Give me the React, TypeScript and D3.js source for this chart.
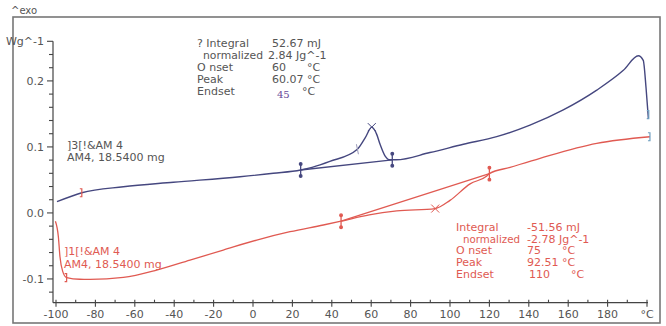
import * as d3 from 'd3';

// heat flow curves (°C, W/g)
const blueTemps = [-99.5, -86.9, -65.8, -40.4, -6.6, 10.3, 24.2, 30, 39, 53, 57, 60.3, 62.8, 64.5, 67, 69.5, 72.6, 89.8, 106.8, 123.7, 140.6, 157.5, 174.5, 188, 195.6, 198.1, 199.5, 200.7];
const blueValues = [0.017, 0.0306, 0.0397, 0.0464, 0.0548, 0.06, 0.065, 0.069, 0.078, 0.0965, 0.114, 0.13, 0.119, 0.104, 0.0865, 0.0805, 0.0805, 0.0915, 0.104, 0.1155, 0.133, 0.156, 0.186, 0.216, 0.238, 0.231, 0.19, 0.1433];

const redTemps = [-100.3, -98.8, -98, -96.6, -94.6, -88, -82.7, -65.8, -48.9, -32, -15.1, 1.9, 18.8, 35.7, 44.7, 59, 73, 92.5, 100, 110.2, 118.7, 120, 130.5, 145.7, 174.5, 201.5];
const redValues = [-0.0125, -0.036, -0.066, -0.0885, -0.098, -0.1005, -0.1006, -0.0976, -0.0865, -0.0714, -0.0562, -0.0411, -0.0285, -0.0183, -0.0125, -0.003, 0.003, 0.0066, 0.019, 0.044, 0.056, 0.0595, 0.069, 0.0827, 0.1054, 0.1154];

// integration limits, onset, peak
const blueLimitTemps = [24.2, 70.7];
const blueLimitValues = [0.065, 0.0805];
const blueOnset = [53, 0.0965];
const bluePeak = [60.3, 0.13];
const redLimitTemps = [44.7, 120];
const redLimitValues = [-0.0125, 0.0595];
const redPeak = [92.5, 0.0066];
const startMarks = [[-86.9, 0.0306], [-94.6, -0.098]];
const endMarks = [[200.9, 0.149], [201.5, 0.1154]];

const xTicks = d3.range(-100, 201, 10);
const xLabels = ['-100', '-80', '-60', '-40', '-20', '0', '20', '40', '60', '80', '100', '120', '140', '160', '180', '°C'];
const yTicks = d3.range(-0.12, 0.27, 0.02).map(v => +v.toFixed(2));
const yLabels: Record<string, string> = { '-0.1': '-0.1', '0': '0.0', '0.1': '0.1', '0.2': '0.2', '0.26': 'Wg^-1' };

const blueText = [['? Integral', '52.67 mJ'], ['normalized', '2.84 Jg^-1'], ['O nset', '60      °C'], ['Peak', '60.07 °C'], ['Endset', '']];
const redText = [['Integral', '-51.56 mJ'], ['normalized', '-2.78 Jg^-1'], ['O nset', '75      °C'], ['Peak', '92.51 °C'], ['Endset', '110      °C']];

const BLUE = '#45477f';
const RED = '#e05a52';
const TEXT = '#555';

export default function App() {
  const width = 666, height = 326;
  const x = d3.scaleLinear().domain([-100, 200]).range([56, 647]);
  const y = d3.scaleLinear().domain([-0.136, 0.26]).range([302.7, 41.3]);

  const line = d3.line<[number, number]>().x(d => x(d[0])).y(d => y(d[1])).curve(d3.curveMonotoneX);
  const blue = line(blueTemps.map((t, i) => [t, blueValues[i]]));
  const red = line(redTemps.map((t, i) => [t, redValues[i]]));
  const straight = d3.line<[number, number]>().x(d => x(d[0])).y(d => y(d[1]));

  const limit = (t: number, v: number, color: string, key: string) => (
    <g key={key} stroke={color} strokeWidth={1.3} fill={color}>
      <line x1={x(t)} x2={x(t)} y1={y(v) - 6} y2={y(v) + 6} />
      <circle cx={x(t)} cy={y(v) - 6} r={1.3} />
      <circle cx={x(t)} cy={y(v) + 6} r={1.3} />
    </g>
  );
  const bracket = (t: number, v: number, color: string, key: string) => (
    <path key={key} d={`M${x(t) - 2},${y(v) - 4} h2 v8 h-2`} fill="none" stroke={color} strokeWidth={1.2} />
  );
  const cross = (t: number, v: number, color: string) => (
    <path d={`M${x(t) - 4},${y(v) - 4} L${x(t) + 4},${y(v) + 4} M${x(t) + 4},${y(v) - 4} L${x(t) - 4},${y(v) + 4}`} stroke={color} strokeWidth={1} />
  );

  return (
    <svg width={width} height={height} style={{ position: 'absolute', left: 0, top: 0, background: '#fff' }} fontFamily="DejaVu Sans, Verdana, sans-serif">
      <rect x={0} y={0} width={width} height={height} fill="#fff" />
      <rect x={13} y={17} width={647} height={306} fill="none" stroke="#777" strokeWidth={1.6} />
      <text x={11} y={14} fontSize={10} fill={TEXT}>^exo</text>

      {/* y axis */}
      <line x1={53} x2={53} y1={y(0.26)} y2={y(-0.136)} stroke="#444" strokeWidth={1.2} />
      {yTicks.map(v => {
        const lab = yLabels[String(v)];
        return (
          <g key={v}>
            <line x1={53 - (lab ? 6 : 4)} x2={53} y1={y(v)} y2={y(v)} stroke="#444" strokeWidth={1.1} />
            {lab && <text x={44} y={y(v)} dy="0.35em" textAnchor="end" fontSize={11} fill={TEXT}>{lab}</text>}
          </g>
        );
      })}

      {/* x axis */}
      <line x1={53} x2={648} y1={302.7} y2={302.7} stroke="#444" strokeWidth={1.2} />
      {xTicks.map((t, i) => (
        <g key={t}>
          <line x1={x(t)} x2={x(t)} y1={302.7 - 3} y2={302.7 + (i % 2 === 0 ? 4 : 0)} stroke="#444" strokeWidth={1.1} />
          {i % 2 === 0 && <text x={x(t)} y={318} textAnchor="middle" fontSize={11} fill={TEXT}>{xLabels[i / 2]}</text>}
        </g>
      ))}

      {/* curves */}
      <path d={blue ?? ''} fill="none" stroke={BLUE} strokeWidth={1.4} />
      <path d={red ?? ''} fill="none" stroke={RED} strokeWidth={1.3} />
      <path d={straight(blueLimitTemps.map((t, i) => [t, blueLimitValues[i]])) ?? ''} fill="none" stroke={BLUE} strokeWidth={1.3} />
      <path d={straight(redLimitTemps.map((t, i) => [t, redLimitValues[i]])) ?? ''} fill="none" stroke={RED} strokeWidth={1.3} />

      {blueLimitTemps.map((t, i) => limit(t, blueLimitValues[i], BLUE, 'b' + i))}
      {redLimitTemps.map((t, i) => limit(t, redLimitValues[i], RED, 'r' + i))}
      <line x1={x(blueOnset[0]) - 1} x2={x(blueOnset[0]) + 1} y1={y(blueOnset[1]) - 5} y2={y(blueOnset[1]) + 5} stroke="#9a9ab8" strokeWidth={1} />
      {cross(bluePeak[0], bluePeak[1], BLUE)}
      {cross(redPeak[0], redPeak[1], RED)}
      {startMarks.map((m, i) => bracket(m[0], m[1], RED, 's' + i))}
      {endMarks.map((m, i) => bracket(m[0], m[1], '#6f9fc0', 'e' + i))}

      {/* blue annotations */}
      <g fontSize={11} fill={TEXT}>
        {blueText.map((r, i) => (
          <g key={i}>
            {i === 1
              ? <text x={203} y={47 + i * 12} textLength={60} lengthAdjust="spacingAndGlyphs">{r[0]}</text>
              : <text x={197} y={47 + i * 12}>{r[0]}</text>}
            <text x={i === 1 ? 268 : 272} y={47 + i * 12} xmlSpace="preserve">{r[1]}</text>
          </g>
        ))}
        <text x={302} y={95} fontSize={11}>°C</text>
        <text x={277} y={98} fontSize={10} fill="#6a4a9a" fontFamily="DejaVu Serif, serif">45</text>
        <text x={67} y={149}>]3[!&amp;AM 4</text>
        <text x={67} y={161}>AM4, 18.5400 mg</text>
      </g>

      {/* red annotations */}
      <g fontSize={11} fill={RED}>
        {redText.map((r, i) => (
          <g key={i}>
            {i === 1
              ? <text x={463} y={231 + i * 11.7} textLength={57} lengthAdjust="spacingAndGlyphs">{r[0]}</text>
              : <text x={456} y={231 + i * 11.7}>{r[0]}</text>}
            <text x={i === 4 ? 529 : 527} y={231 + i * 11.7} xmlSpace="preserve">{r[1]}</text>
          </g>
        ))}
        <text x={64} y={255}>]1[!&amp;AM 4</text>
        <text x={64} y={268}>AM4, 18.5400 mg</text>
      </g>
    </svg>
  );
}
